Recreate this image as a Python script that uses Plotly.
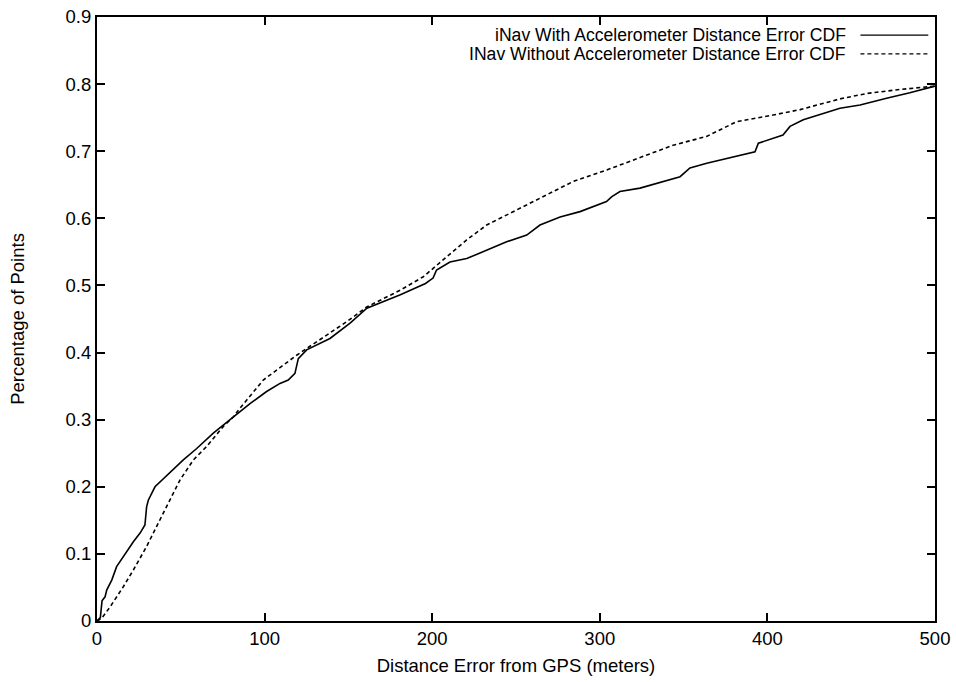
import plotly.graph_objects as go

# Series: iNav with accelerometer (solid)
with_x = [0, 2, 3, 4.8, 5.8, 8.8, 11.7, 15.7, 21.7, 25.7, 28.6, 29.6, 30.6, 34.6, 43.6, 51.5, 59.5,
          69.4, 79.4, 91.3, 101.2, 109.2, 114.1, 118.1, 120.1, 125.1, 139, 151, 161, 181, 196, 200.5,
          202.6, 210.6, 220.6, 232.5, 244.4, 256.4, 264.3, 276.3, 288.2, 304, 307, 312, 324, 347.9,
          353.8, 363.8, 383.7, 392.6, 394.6, 409.3, 413.5, 421.4, 443.3, 455.3, 471.1, 485, 500]
with_y = [0, 0.005, 0.03, 0.036, 0.046, 0.061, 0.081, 0.096, 0.118, 0.131, 0.143, 0.170, 0.18, 0.200,
          0.222, 0.240, 0.257, 0.28, 0.3, 0.324, 0.342, 0.354, 0.359, 0.369, 0.391, 0.404, 0.421, 0.444,
          0.466, 0.486, 0.503, 0.511, 0.523, 0.535, 0.540, 0.553, 0.565, 0.575, 0.590, 0.602, 0.610,
          0.625, 0.632, 0.640, 0.645, 0.662, 0.675, 0.682, 0.694, 0.699, 0.712, 0.724, 0.737, 0.747,
          0.764, 0.769, 0.779, 0.787, 0.797]

# Series: iNav without accelerometer (dashed)
without_x = [0, 2.8, 7.8, 15.7, 21.7, 29.6, 35.6, 43.6, 49.5, 57.5, 65.4, 75.4, 81.3, 85.3, 99.2, 119.1,
             139, 149, 161, 181, 194.7, 206.6, 220.6, 232.5, 248.4, 264.3, 284.2, 304.1, 324, 343.8,
             363.7, 381.6, 403.5, 419.5, 443.3, 459.2, 479.1, 500]
without_y = [0, 0.004, 0.021, 0.051, 0.076, 0.111, 0.141, 0.180, 0.21, 0.240, 0.260, 0.290, 0.304, 0.317,
             0.359, 0.396, 0.429, 0.446, 0.468, 0.493, 0.513, 0.538, 0.568, 0.590, 0.610, 0.631, 0.655,
             0.672, 0.690, 0.709, 0.722, 0.744, 0.754, 0.762, 0.778, 0.786, 0.792, 0.797]

legend_labels = ["iNav With Accelerometer Distance Error CDF",
                 "INav Without Accelerometer Distance Error CDF"]
x_ticks = [0, 100, 200, 300, 400, 500]
y_ticks = [0, 0.1, 0.2, 0.3, 0.4, 0.5, 0.6, 0.7, 0.8, 0.9]
y_tick_text = ["0", "0.1", "0.2", "0.3", "0.4", "0.5", "0.6", "0.7", "0.8", "0.9"]

FONT = "Liberation Sans, Arial, sans-serif"

fig = go.Figure()
fig.add_trace(go.Scatter(x=with_x, y=with_y, mode="lines", name=legend_labels[0],
                         line=dict(color="black", width=1.6), showlegend=False))
fig.add_trace(go.Scatter(x=without_x, y=without_y, mode="lines", name=legend_labels[1],
                         line=dict(color="black", width=1.6, dash="4px,3px"), showlegend=False))

# Hand-drawn legend (text on the left, line sample on the right, as in the original)
legend_rows = [(0.970, "solid"), (0.939, "4px,3px")]
for (yy, dash), label in zip(legend_rows, legend_labels):
    fig.add_annotation(x=0.896, y=yy, xref="paper", yref="paper", text=label, showarrow=False,
                       xanchor="right", yanchor="middle", font=dict(family=FONT, size=17.6, color="black"))
    fig.add_shape(type="line", xref="paper", yref="paper", x0=0.911, x1=0.992, y0=yy, y1=yy,
                  line=dict(color="black", width=1.3, dash=dash))

axis_common = dict(showline=True, linecolor="black", linewidth=2, mirror="ticks", ticks="inside",
                   ticklen=8, tickwidth=1.5, tickcolor="black", showgrid=False, zeroline=False,
                   automargin=False, ticklabeloverflow="allow",
                   tickfont=dict(family=FONT, size=18.5, color="black"))
fig.update_xaxes(range=[0, 500], tickvals=x_ticks, title=dict(text="Distance Error from GPS (meters)",
                 font=dict(family=FONT, size=18.5, color="black"), standoff=11), **axis_common)
fig.update_yaxes(range=[0, 0.9], tickvals=y_ticks, ticktext=y_tick_text,
                 title=dict(text="Percentage of Points", font=dict(family=FONT, size=18.5, color="black"),
                            standoff=36), **axis_common)

fig.update_layout(width=956, height=682, margin=dict(l=97, r=21, t=17, b=61),
                  paper_bgcolor="white", plot_bgcolor="white", font=dict(family=FONT, color="black"))

# Remove the browser's default 8px body margin so the 956x682 figure fills the window exactly
fig.write_html("out.html", config={"displayModeBar": False},
               post_script="document.body.style.margin='0';document.body.style.overflow='hidden';")
